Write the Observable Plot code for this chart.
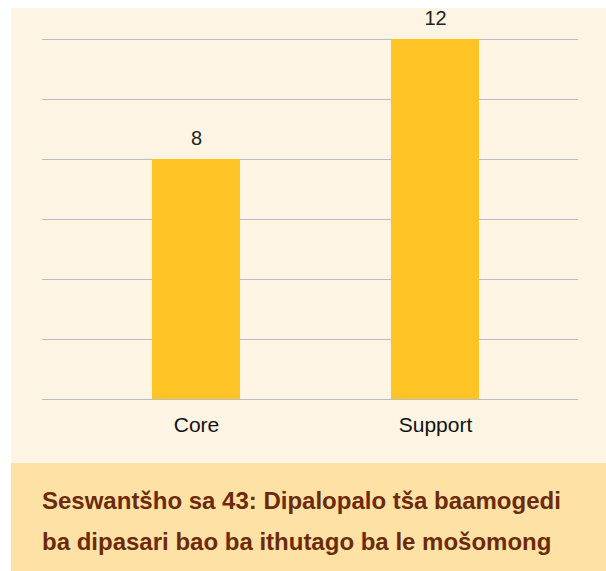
<!DOCTYPE html>
<html>
<head>
<meta charset="utf-8">
<script src="https://cdn.jsdelivr.net/npm/d3@7"></script>
<script src="https://cdn.jsdelivr.net/npm/@observablehq/plot@0.6"></script>
<style>
  html, body { margin: 0; padding: 0; background: #ffffff; }
  #wrap { position: absolute; left: 11px; top: 8px; width: 595px; }
  #panel { background: #fef4e4; height: 455px; }
  #caption {
    background: #fee2a5; height: 108px; box-sizing: border-box;
    padding: 17px 0 0 31px;
    font-family: "Liberation Sans", Arial, sans-serif; font-weight: bold;
    font-size: 24px; line-height: 41px; color: #6b2a0a;
  }
  #panel svg { display: block; }
</style>
</head>
<body>
<div id="wrap">
  <div id="panel"></div>
  <div id="caption">Seswantšho sa 43: Dipalopalo tša baamogedi<br>ba dipasari bao ba ithutago ba le mošomong</div>
</div>
<script>
const categories = ["Core", "Support"];
const values = [8, 12];
const gridTicks = [0, 2, 4, 6, 8, 10, 12];

const data = categories.map((c, i) => ({ category: c, value: values[i] }));

const chart = Plot.plot({
  width: 595,
  height: 455,
  marginTop: 31,
  marginBottom: 64,
  marginLeft: 31,
  marginRight: 28,
  style: { background: "transparent", fontFamily: "Liberation Sans, Arial, sans-serif" },
  x: { domain: categories, range: [64, 544], paddingInner: 0.633, paddingOuter: 0.3167, label: null },
  y: { domain: [0, 12], axis: null },
  marks: [
    Plot.ruleY(gridTicks, { stroke: "#babbc5", strokeWidth: 1.2 }),
    Plot.barY(data, { x: "category", y: "value", fill: "#fec425" }),
    Plot.text(data, { x: "category", y: "value", text: d => String(d.value), dy: -21, fontSize: 20, fill: "#222222" }),
    Plot.axisX({ tickSize: 0, tickPadding: 26, fontSize: 21, fill: "#111111", lineAnchor: "middle" })
  ]
});
document.getElementById("panel").appendChild(chart);
</script>
</body>
</html>
